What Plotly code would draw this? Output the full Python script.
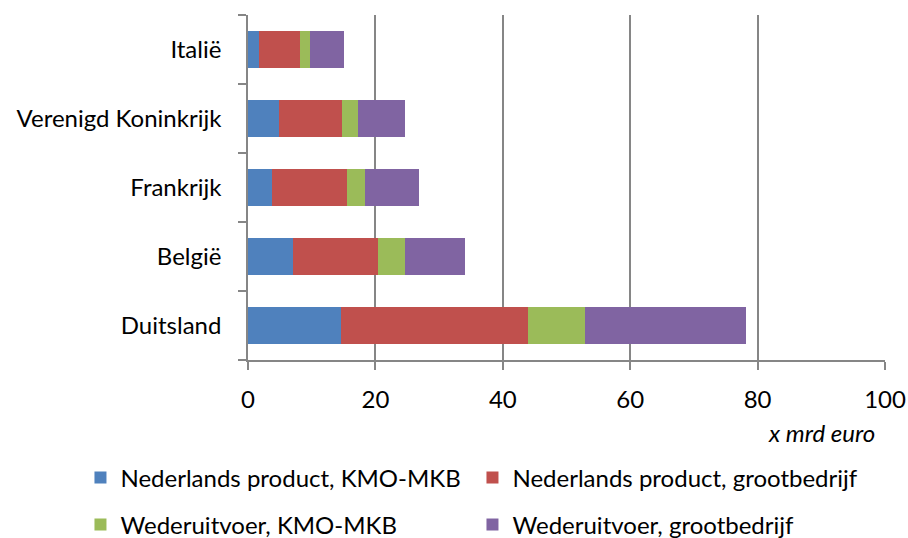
import plotly.graph_objects as go

countries = ["Duitsland", "België", "Frankrijk", "Verenigd Koninkrijk", "Italië"]
np_kmo = [14.65, 7.1, 3.8, 4.8, 1.7]
np_groot = [29.35, 13.3, 11.8, 10.0, 6.4]
wu_kmo = [8.9, 4.3, 2.7, 2.4, 1.6]
wu_groot = [25.2, 9.4, 8.6, 7.5, 5.4]

series = [
    ("Nederlands product, KMO-MKB", np_kmo, "#4F81BD", "legend"),
    ("Nederlands product, grootbedrijf", np_groot, "#C0504D", "legend"),
    ("Wederuitvoer, KMO-MKB", wu_kmo, "#9BBB59", "legend2"),
    ("Wederuitvoer, grootbedrijf", wu_groot, "#8064A2", "legend2"),
]

FONT = "Lato, 'Open Sans', sans-serif"
FS = 24
fig = go.Figure()
for name, vals, col, lg in series:
    fig.add_trace(go.Bar(
        y=countries, x=vals, name=name, orientation="h",
        marker=dict(color=col, line=dict(width=0)), legend=lg,
    ))

leg_common = dict(
    orientation="h", xref="paper", yref="paper", xanchor="left", yanchor="middle",
    font=dict(family=FONT, size=FS, color="#000"),
    entrywidth=347, entrywidthmode="pixels", itemwidth=30,
    bgcolor="rgba(0,0,0,0)", traceorder="normal",
)

fig.update_layout(
    width=908, height=538,
    margin=dict(l=248, r=23, t=15, b=178, autoexpand=False),
    barmode="stack", bargap=0.45,
    plot_bgcolor="white", paper_bgcolor="white",
    font=dict(family=FONT, size=FS, color="#000"),
    legend=dict(x=-0.263, y=-0.342, **leg_common),
    legend2=dict(x=-0.263, y=-0.478, **leg_common),
    xaxis=dict(
        range=[0, 100], dtick=20, showgrid=True, gridcolor="#868686", gridwidth=1.6,
        showline=True, linecolor="#868686", linewidth=1.6,
        ticks="outside", ticklen=8, tickcolor="#868686", tickwidth=1.6,
        ticklabelstandoff=9, zeroline=False,
        tickfont=dict(family=FONT, size=FS),
    ),
    yaxis=dict(
        categoryorder="array", categoryarray=countries,
        showgrid=False, showline=True, linecolor="#868686", linewidth=1.6,
        ticks="outside", ticklen=8, tickcolor="#868686", tickwidth=1.6,
        tickson="boundaries", ticklabelstandoff=20,
        tickfont=dict(family=FONT, size=FS),
    ),
    annotations=[dict(
        text="<i>x mrd euro</i>", xref="paper", yref="paper",
        x=(876 - 248) / 636, y=-0.209, xanchor="right", yanchor="middle",
        showarrow=False, font=dict(family=FONT, size=FS, color="#000"),
    )],
)

fig.write_html("out.html")
